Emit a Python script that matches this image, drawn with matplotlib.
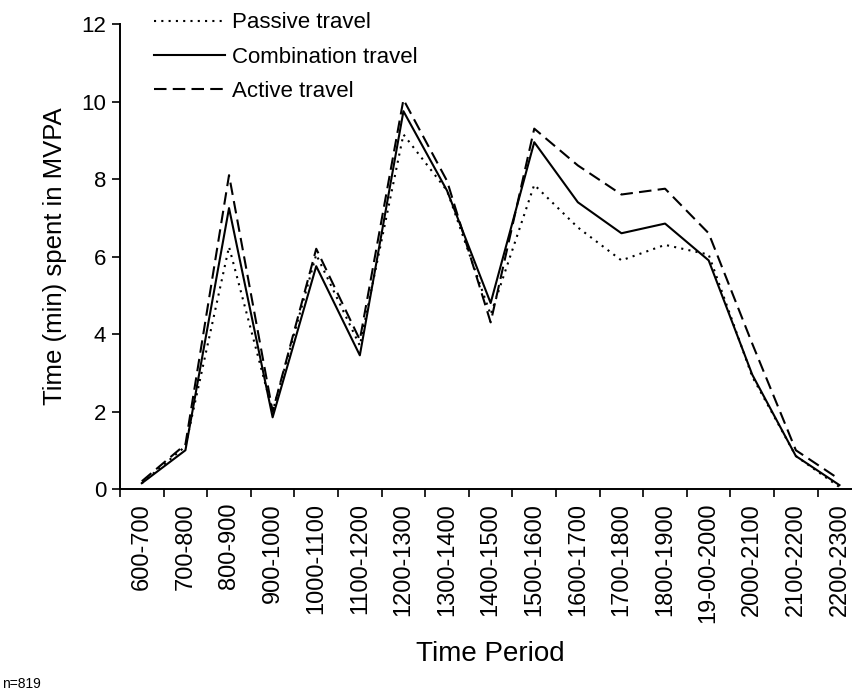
import matplotlib.pyplot as plt
import numpy as np

# time periods on the x axis
periods = ['600-700', '700-800', '800-900', '900-1000', '1000-1100', '1100-1200',
           '1200-1300', '1300-1400', '1400-1500', '1500-1600', '1600-1700',
           '1700-1800', '1800-1900', '19-00-2000', '2000-2100', '2100-2200', '2200-2300']

# minutes of MVPA per period
passive = [0.15, 1.1, 6.25, 2.0, 6.05, 3.7, 9.15, 7.7, 4.5, 7.85, 6.75, 5.9, 6.3, 6.05, 2.9, 0.85, 0.05]
combination = [0.15, 1.0, 7.25, 1.85, 5.75, 3.45, 9.75, 7.7, 4.8, 8.95, 7.4, 6.6, 6.85, 5.9, 2.95, 0.85, 0.1]
active = [0.2, 1.15, 8.1, 2.0, 6.2, 3.85, 10.05, 7.95, 4.3, 9.3, 8.35, 7.6, 7.75, 6.6, 3.75, 1.0, 0.25]

plt.rcParams['font.family'] = ['Liberation Sans', 'DejaVu Sans']

fig = plt.figure(figsize=(8.53, 6.96), dpi=100)
ax = fig.add_axes([0.1407, 0.2974, 0.869, 0.6681])

x = np.arange(len(periods))
ax.plot(x, passive, color='black', lw=1.5, linestyle=(0, (1, 2.5)), label='Passive travel')
ax.plot(x, combination, color='black', lw=1.5, linestyle='-', label='Combination travel')
ax.plot(x, active, color='black', lw=1.5, linestyle=(0, (6, 3)), label='Active travel')

ax.set_xlim(-0.5, len(periods) - 0.5)
ax.set_ylim(0, 12)
ax.set_yticks([0, 2, 4, 6, 8, 10, 12])
ax.tick_params(axis='y', labelsize=16, length=6, width=1.2, pad=4)

# labels at the centres, ticks on the boundaries
ax.set_xticks(x)
ax.set_xticklabels(periods, rotation=90, fontsize=17)
ax.set_xticks(np.arange(-0.5, len(periods), 1.0), minor=True)
ax.tick_params(axis='x', which='major', length=0, pad=10)
ax.tick_params(axis='x', which='minor', length=6, width=1.2)

for s in ['top', 'right']:
    ax.spines[s].set_visible(False)
for s in ['left', 'bottom']:
    ax.spines[s].set_linewidth(1.4)

ax.set_ylabel('Time (min) spent in MVPA', fontsize=18.5, labelpad=10)
ax.set_xlabel('Time Period', fontsize=20, labelpad=13)

ax.legend(loc='upper left', bbox_to_anchor=(0.17, 0.995), bbox_transform=fig.transFigure,
          frameon=False, fontsize=16, handlelength=3.2, handletextpad=0.3, labelspacing=0.6,
          borderaxespad=0)

fig.text(0.002, 0.012, 'n=819', fontsize=10)

fig.savefig('out.png', dpi=100)
